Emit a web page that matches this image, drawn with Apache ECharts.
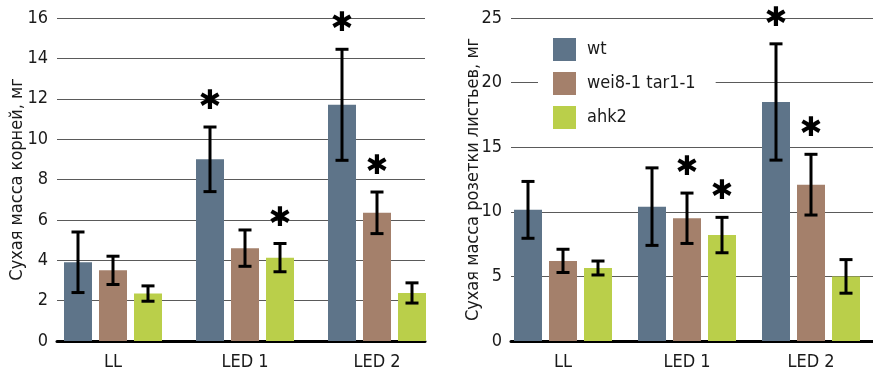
<!DOCTYPE html>
<html><head><meta charset="utf-8">
<script src="https://cdn.jsdelivr.net/npm/echarts@6/dist/echarts.min.js"></script>
<style>html,body{margin:0;padding:0;background:#fff}#c{width:873px;height:375px}</style>
</head><body><div id="c"></div>
<script>
var categories = ['LL', 'LED 1', 'LED 2'];
var seriesNames = ['wt', 'wei8-1 tar1-1', 'ahk2'];
// Left: root dry mass (mg)
var rootWt = [3.9, 9.0, 11.7];
var rootWtErr = [1.5, 1.6, 2.75];
var rootWei = [3.5, 4.6, 6.35];
var rootWeiErr = [0.7, 0.9, 1.03];
var rootAhk = [2.35, 4.13, 2.38];
var rootAhkErr = [0.38, 0.7, 0.5];
var rootWtSig = [0, 1, 1];
var rootWeiSig = [0, 0, 1];
var rootAhkSig = [0, 1, 0];
// Right: rosette dry mass (mg)
var rosWt = [10.15, 10.4, 18.5];
var rosWtErr = [2.2, 3.0, 4.5];
var rosWei = [6.2, 9.5, 12.1];
var rosWeiErr = [0.9, 1.95, 2.35];
var rosAhk = [5.65, 8.2, 5.0];
var rosAhkErr = [0.54, 1.37, 1.3];
var rosWtSig = [0, 0, 1];
var rosWeiSig = [0, 1, 1];
var rosAhkSig = [0, 1, 0];
var rootTicks = {min: 0, max: 16, interval: 2};
var rosTicks = {min: 0, max: 25, interval: 5};

var colors = ['#5e7489', '#a4806b', '#bacf4a'];
var FONT = '"DejaVu Sans Condensed", "Liberation Sans Narrow", "Liberation Sans", sans-serif';
var BAR_W = 28, BAR_GAP = 7;

function errSeries(grid, means, errs, sigs, idx) {
  var data = means.map(function (m, i) { return [i, m, errs[i], sigs[i]]; });
  return {
    type: 'custom', xAxisIndex: grid, yAxisIndex: grid, z: 10, silent: true,
    data: data,
    renderItem: function (params, api) {
      var c = api.value(0), m = api.value(1), e = api.value(2), s = api.value(3);
      var off = (idx - 1) * (BAR_W + BAR_GAP);
      var top = api.coord([c, m + e]);
      var bot = api.coord([c, m - e]);
      var x = top[0] + off;
      var st = {stroke: '#000', lineWidth: 3};
      var ch = [
        {type: 'line', shape: {x1: x, y1: top[1], x2: x, y2: bot[1]}, style: st},
        {type: 'line', shape: {x1: x - 6.5, y1: top[1], x2: x + 6.5, y2: top[1]}, style: st},
        {type: 'line', shape: {x1: x - 6.5, y1: bot[1], x2: x + 6.5, y2: bot[1]}, style: st}
      ];
      if (s) {
        ch.push({type: 'text', x: x, y: top[1] - 25, style: {text: '✱', fontSize: 27, fontFamily: 'DejaVu Sans', fontWeight: 'bold', fill: '#000', align: 'center', verticalAlign: 'middle'}});
      }
      return {type: 'group', children: ch};
    }
  };
}
function bar(grid, name, vals, idx) {
  return {type: 'bar', name: name, xAxisIndex: grid, yAxisIndex: grid, data: vals,
    barWidth: BAR_W, barGap: (BAR_GAP / BAR_W * 100) + '%', itemStyle: {color: colors[idx]}, silent: true};
}
var labelStyle = {color: '#1a1a1a', fontSize: 18, fontFamily: FONT};

var option = {
  animation: false,
  color: colors,
  legend: {
    data: seriesNames, orient: 'vertical', left: 538, top: 33,
    padding: [5, 20, 5, 15], itemGap: 11, itemWidth: 23, itemHeight: 23,
    icon: 'rect', backgroundColor: '#fff', selectedMode: false,
    textStyle: {color: '#1a1a1a', fontSize: 18, fontFamily: FONT, padding: [0, 0, 0, 6]}
  },
  grid: [
    {left: 57, width: 368, top: 18, bottom: 34},
    {left: 47, width: 396, top: 18, bottom: 34},
    {left: 511, right: 0, top: 18, bottom: 34},
    {left: 501, width: 396, top: 18, bottom: 34}
  ],
  xAxis: [
    {type: 'value', gridIndex: 0, min: 0, max: 1, axisLabel: {show: false}, axisTick: {show: false}, splitLine: {show: false},
      axisLine: {show: true, lineStyle: {color: '#000', width: 3}}},
    {type: 'category', gridIndex: 1, data: categories, axisLine: {show: false}, axisTick: {show: false},
      axisLabel: Object.assign({margin: 12}, labelStyle)},
    {type: 'value', gridIndex: 2, min: 0, max: 1, axisLabel: {show: false}, axisTick: {show: false}, splitLine: {show: false},
      axisLine: {show: true, lineStyle: {color: '#000', width: 3}}},
    {type: 'category', gridIndex: 3, data: categories, axisLine: {show: false}, axisTick: {show: false},
      axisLabel: Object.assign({margin: 12}, labelStyle)}
  ],
  yAxis: [
    {type: 'value', gridIndex: 0, min: rootTicks.min, max: rootTicks.max, interval: rootTicks.interval,
      axisLine: {show: false}, axisTick: {show: false}, axisLabel: Object.assign({margin: 9}, labelStyle),
      splitLine: {lineStyle: {color: '#5a5a5a', width: 1}},
      name: 'Сухая масса корней, мг', nameLocation: 'middle', nameRotate: 90, nameGap: 31, nameMoveOverlap: false,
      nameTextStyle: labelStyle},
    {type: 'value', gridIndex: 1, min: rootTicks.min, max: rootTicks.max, show: false},
    {type: 'value', gridIndex: 2, min: rosTicks.min, max: rosTicks.max, interval: rosTicks.interval,
      axisLine: {show: false}, axisTick: {show: false}, axisLabel: Object.assign({margin: 9}, labelStyle),
      splitLine: {lineStyle: {color: '#5a5a5a', width: 1}},
      name: 'Сухая масса розетки листьев, мг', nameLocation: 'middle', nameRotate: 90, nameGap: 29, nameMoveOverlap: false,
      nameTextStyle: labelStyle},
    {type: 'value', gridIndex: 3, min: rosTicks.min, max: rosTicks.max, show: false}
  ],
  series: [
    bar(1, seriesNames[0], rootWt, 0), bar(1, seriesNames[1], rootWei, 1), bar(1, seriesNames[2], rootAhk, 2),
    bar(3, seriesNames[0], rosWt, 0), bar(3, seriesNames[1], rosWei, 1), bar(3, seriesNames[2], rosAhk, 2),
    errSeries(1, rootWt, rootWtErr, rootWtSig, 0), errSeries(1, rootWei, rootWeiErr, rootWeiSig, 1), errSeries(1, rootAhk, rootAhkErr, rootAhkSig, 2),
    errSeries(3, rosWt, rosWtErr, rosWtSig, 0), errSeries(3, rosWei, rosWeiErr, rosWeiSig, 1), errSeries(3, rosAhk, rosAhkErr, rosAhkSig, 2)
  ]
};
echarts.init(document.getElementById('c')).setOption(option);
</script></body></html>
